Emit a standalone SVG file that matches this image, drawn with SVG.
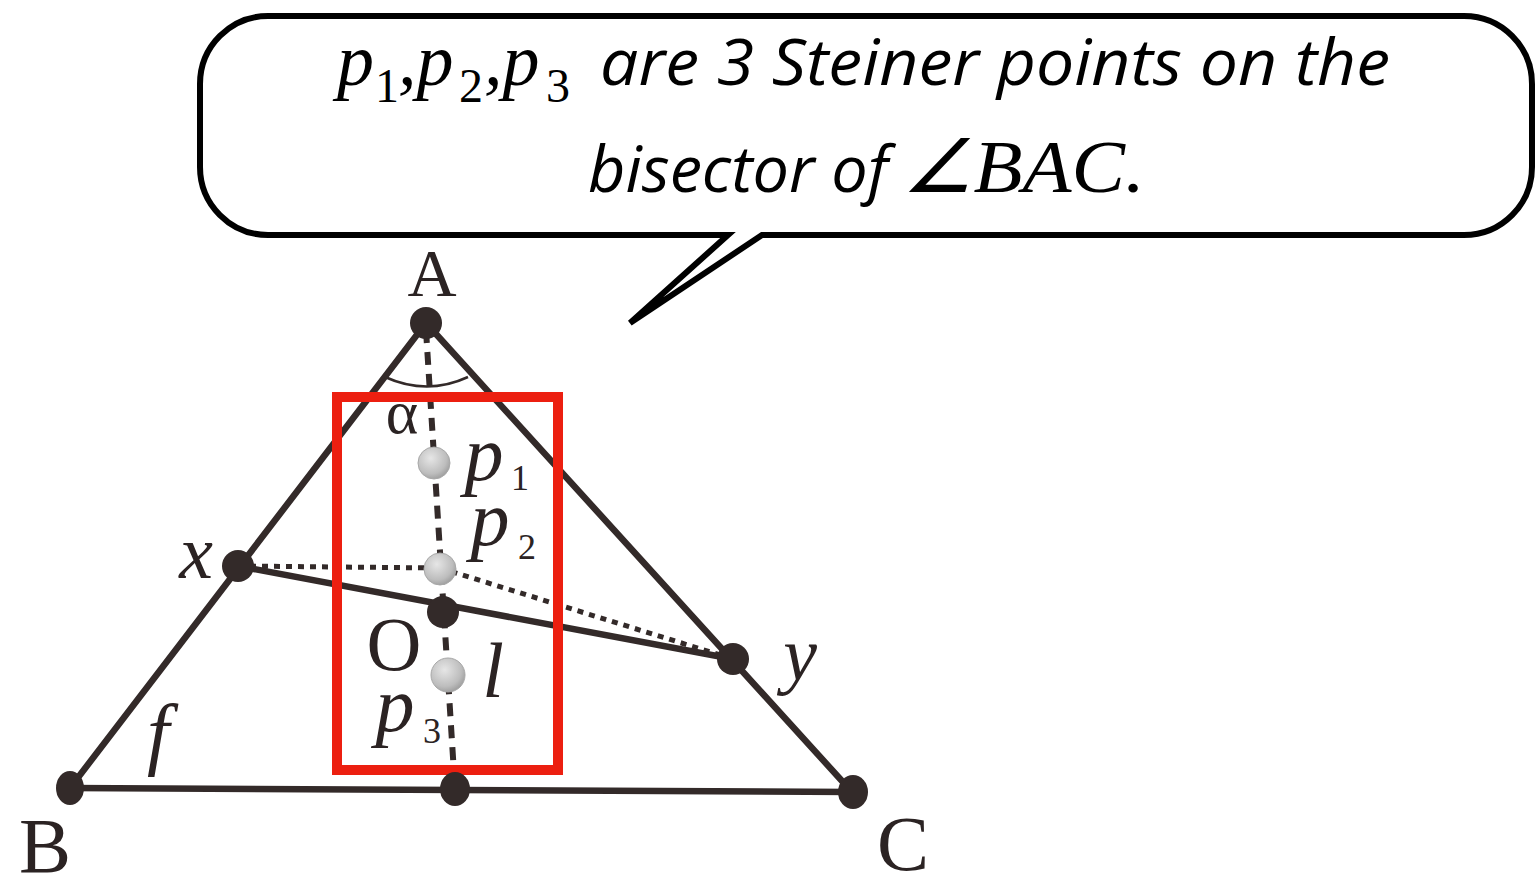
<svg xmlns="http://www.w3.org/2000/svg" width="1535" height="877" viewBox="0 0 1535 877">
<defs>
<radialGradient id="gp" cx="0.4" cy="0.35" r="0.7">
<stop offset="0" stop-color="#e6e6e6"/>
<stop offset="0.7" stop-color="#bdbdbd"/>
<stop offset="1" stop-color="#9a9a9a"/>
</radialGradient>
<style>
.edge{stroke:#332a29;stroke-width:6.5;fill:none;stroke-linecap:round}
.dash{stroke:#332a29;stroke-width:6;fill:none;stroke-dasharray:13 9}
.dot{stroke:#332a29;stroke-width:5;fill:none;stroke-dasharray:6 6}
.pt{fill:#332a29}
.sp{fill:url(#gp);stroke:#a8a8a8;stroke-width:1}
.lbl{font-family:"Liberation Serif","Times New Roman",serif;fill:#2b2323}
.it{font-style:italic}
.call{font-family:"Open Sans","Liberation Sans",sans-serif;font-style:italic;fill:#000}
.ser{font-family:"Liberation Serif","Times New Roman",serif;font-style:italic;fill:#000}
.sub{font-family:"Liberation Serif","Times New Roman",serif;font-style:normal;fill:#000}
</style>
</defs>
<rect width="1535" height="877" fill="#fff"/>

<g id="callout">
<path d="M 268,16 H 1464 A 68,68 0 0 1 1532,84 V 167 A 68,68 0 0 1 1464,235 H 762 L 630,323 L 728,235 H 268 A 68,68 0 0 1 200,167 V 84 A 68,68 0 0 1 268,16 Z" fill="#fff" stroke="#000" stroke-width="6" stroke-linejoin="miter"/>
<text class="ser" x="337" y="85" font-size="74">p</text>
<text class="sub" x="375" y="102" font-size="48">1</text>
<text class="ser" x="398" y="85" font-size="74">,p</text>
<text class="sub" x="459" y="102" font-size="48">2</text>
<text class="ser" x="484" y="85" font-size="74">,p</text>
<text class="sub" x="546" y="102" font-size="48">3</text>
<text class="call" x="600" y="85" font-size="64" textLength="790" lengthAdjust="spacingAndGlyphs">are 3 Steiner points on the</text>
<text class="call" x="588" y="192" font-size="64" textLength="300" lengthAdjust="spacingAndGlyphs">bisector of</text>
<text class="ser" x="902" y="192" font-size="74" textLength="243" lengthAdjust="spacingAndGlyphs">∠BAC.</text>
</g>

<g id="connectors">
<line class="edge" x1="426" y1="323" x2="70" y2="788"/>
<line class="edge" x1="426" y1="323" x2="852" y2="792"/>
<line class="edge" x1="70" y1="788" x2="852" y2="792"/>
<line class="edge" x1="238" y1="566" x2="733" y2="659" stroke-width="5"/>
<line class="dash" x1="426" y1="330" x2="455" y2="789"/>
<line class="dot" x1="238" y1="566" x2="440" y2="568"/>
<line class="dot" x1="440" y1="568" x2="733" y2="659"/>
<path d="M 385,377 Q 427,396 468,377" fill="none" stroke="#332a29" stroke-width="2.5"/>
</g>

<g id="highlight">
<rect x="337" y="397" width="221" height="373" fill="none" stroke="#ec1f10" stroke-width="10"/>
</g>

<g id="node-A"><circle class="pt" cx="426" cy="323" r="16"/><text class="lbl" x="432" y="296" font-size="68" text-anchor="middle">A</text></g>
<g id="node-B"><ellipse class="pt" cx="70" cy="788" rx="14" ry="17"/><text class="lbl" x="45" y="872" font-size="78" text-anchor="middle">B</text></g>
<g id="node-C"><ellipse class="pt" cx="853" cy="792" rx="15" ry="17"/><text class="lbl" x="903" y="870" font-size="78" text-anchor="middle">C</text></g>
<g id="node-mid"><ellipse class="pt" cx="455" cy="789" rx="15" ry="17"/></g>
<g id="node-x"><circle class="pt" cx="238" cy="566" r="16"/><text class="lbl it" x="196" y="578" font-size="76" text-anchor="middle">x</text></g>
<g id="node-y"><circle class="pt" cx="733" cy="659" r="16"/><text class="lbl it" x="800" y="680" font-size="76" text-anchor="middle">y</text></g>
<g id="node-O"><circle class="pt" cx="443" cy="612" r="16"/><text class="lbl" x="394" y="670" font-size="76" text-anchor="middle">O</text></g>
<g id="node-p1"><circle class="sp" cx="434" cy="463" r="16"/><text class="lbl it" x="484" y="480" font-size="78" text-anchor="middle">p</text><text class="lbl" x="520" y="490" font-size="36" text-anchor="middle">1</text></g>
<g id="node-p2"><circle class="sp" cx="440" cy="569" r="16"/><text class="lbl it" x="490" y="545" font-size="78" text-anchor="middle">p</text><text class="lbl" x="527" y="559" font-size="36" text-anchor="middle">2</text></g>
<g id="node-p3"><circle class="sp" cx="448" cy="675" r="17"/><text class="lbl it" x="395" y="731" font-size="78" text-anchor="middle">p</text><text class="lbl" x="432" y="743" font-size="36" text-anchor="middle">3</text></g>
<g id="labels">
<text class="lbl it" x="493" y="697" font-size="78" text-anchor="middle">l</text>
<text class="lbl it" x="158" y="760" font-size="80" text-anchor="middle">f</text>
<text class="lbl" x="402" y="433" font-size="62" text-anchor="middle">α</text>
</g>
</svg>
